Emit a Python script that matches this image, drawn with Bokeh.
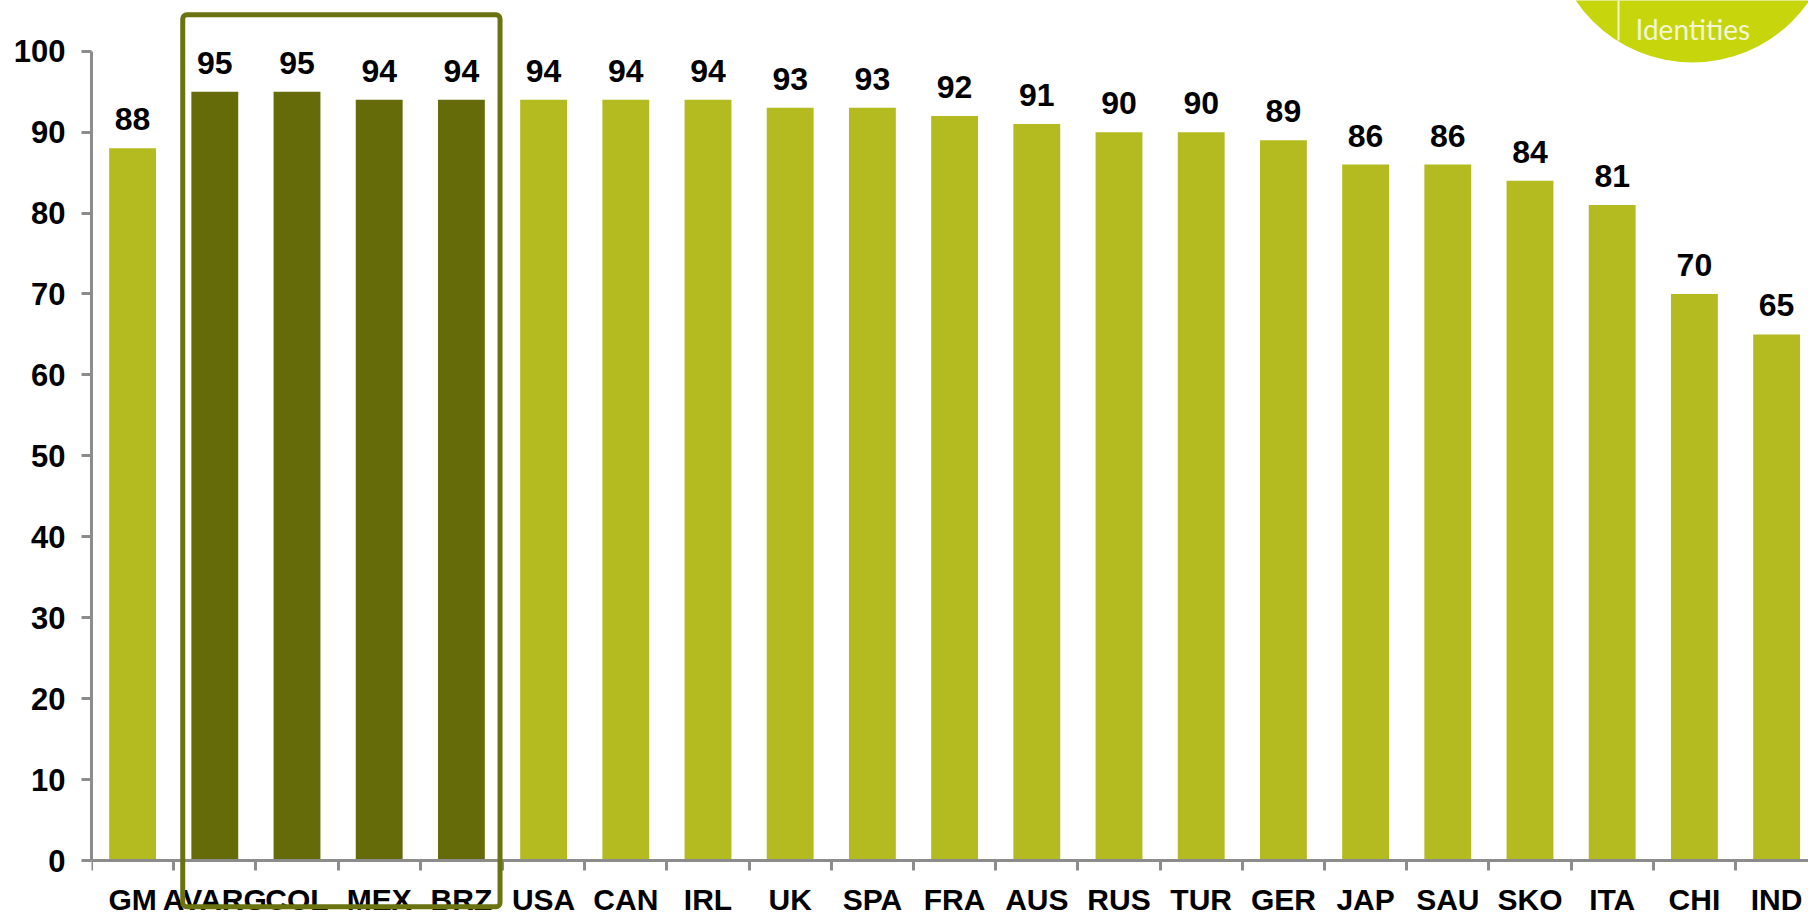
from bokeh.plotting import figure
from bokeh.models import ColumnDataSource, Range1d, FixedTicker, LabelSet, BoxAnnotation
from bokeh.core.properties import value
from bokeh.embed import file_html
from bokeh.resources import INLINE

# Scores by country group
countries = ["GM", "AVARG", "COL", "MEX", "BRZ", "USA", "CAN", "IRL", "UK", "SPA",
             "FRA", "AUS", "RUS", "TUR", "GER", "JAP", "SAU", "SKO", "ITA", "CHI", "IND"]
scores = [88, 95, 95, 94, 94, 94, 94, 94, 93, 93,
          92, 91, 90, 90, 89, 86, 86, 84, 81, 70, 65]
highlighted = ["AVARG", "COL", "MEX", "BRZ"]
y_ticks = [0, 10, 20, 30, 40, 50, 60, 70, 80, 90, 100]

LIGHT = "#b3bb20"
DARK = "#666b09"
FRAME_GREEN = "#6b7210"
AXIS_GREY = "#8c8c8c"
FONT = "Liberation Sans"

W, H = 1808, 918
LEFT = 91
AXIS_PX = 860       # canvas row of the zero line
SLOT_PX = 82.2      # pixels per category
UNIT_PX = 8.093     # pixels per score point
frame_w = W - LEFT
x_end = frame_w / SLOT_PX
y_start = -(H - AXIS_PX) / UNIT_PX
y_end = AXIS_PX / UNIT_PX

centers = [i + 0.5 for i in range(len(countries))]
boundaries = list(range(len(countries) + 1))
colors = [DARK if c in highlighted else LIGHT for c in countries]

source = ColumnDataSource(dict(
    x=centers, score=scores, label=[str(s) for s in scores], color=colors, name=countries,
))

p = figure(width=W, height=H, x_range=Range1d(0, x_end), y_range=Range1d(y_start, y_end),
           output_backend="svg", toolbar_location=None,
           min_border_left=LEFT, min_border_right=0, min_border_top=0,
           min_border_bottom=0, outline_line_color=None,
           background_fill_color="white", border_fill_color="white")
p.grid.visible = False

p.vbar(x="x", top="score", bottom=0, width=0.57, fill_color="color",
       line_color=None, source=source)

p.add_layout(LabelSet(x="x", y="score", text="label", source=source,
                      text_align="center", text_baseline="alphabetic", y_offset=18,
                      text_font=value(FONT), text_font_style="bold",
                      text_font_size="32px", text_color="black"))

# x axis pinned at zero: names at the slot centres, tick marks at the slot boundaries
xa = p.xaxis[0]
xa.fixed_location = 0
xa.ticker = FixedTicker(ticks=centers, minor_ticks=boundaries)
xa.major_label_overrides = {c: n for c, n in zip(centers, countries)}
xa.major_tick_out = 0
xa.major_tick_in = 0
xa.minor_tick_out = 10
xa.minor_tick_in = 0
xa.minor_tick_line_color = AXIS_GREY
xa.minor_tick_line_width = 3
xa.axis_line_color = AXIS_GREY
xa.axis_line_width = 3
xa.major_label_standoff = 12
xa.major_label_text_font = FONT
xa.major_label_text_font_style = "bold"
xa.major_label_text_font_size = "30px"
xa.major_label_text_color = "black"

ya = p.yaxis[0]
ya.bounds = (0, 100)
ya.ticker = FixedTicker(ticks=y_ticks, minor_ticks=[])
ya.major_tick_out = 10
ya.major_tick_in = 0
ya.major_tick_line_color = AXIS_GREY
ya.major_tick_line_width = 3
ya.axis_line_color = AXIS_GREY
ya.axis_line_width = 3
ya.major_label_standoff = 16
ya.major_label_text_font = FONT
ya.major_label_text_font_style = "bold"
ya.major_label_text_font_size = "31px"
ya.major_label_text_color = "black"

# frame around the highlighted group
first = countries.index(highlighted[0])
last = countries.index(highlighted[-1])
p.add_layout(BoxAnnotation(left=first + 0.11, right=last + 1 - 0.03,
                           top=104.5, bottom=-5.7,
                           fill_alpha=0, line_color=FRAME_GREEN, line_alpha=1,
                           line_width=5, border_radius=4))

# corner badge
def px_x(px):
    return (px - LEFT) / SLOT_PX

def px_y(py):
    return (AXIS_PX - py) / UNIT_PX

p.circle(x=[px_x(1692)], y=[px_y(-79)], radius=141, radius_units="screen",
         fill_color="#c6d50c", line_color=None)
p.segment(x0=[px_x(1618)], y0=[px_y(0)], x1=[px_x(1618)], y1=[px_y(40)],
          line_color="#f2f5d0", line_width=2)
p.text(x=[px_x(1635)], y=[px_y(28)], text=["Identities"], text_font=value("Lato"),
       text_font_size="28px", text_color="#f3f6d6", text_baseline="alphabetic")

open("out.html", "w").write(file_html(p, INLINE))
